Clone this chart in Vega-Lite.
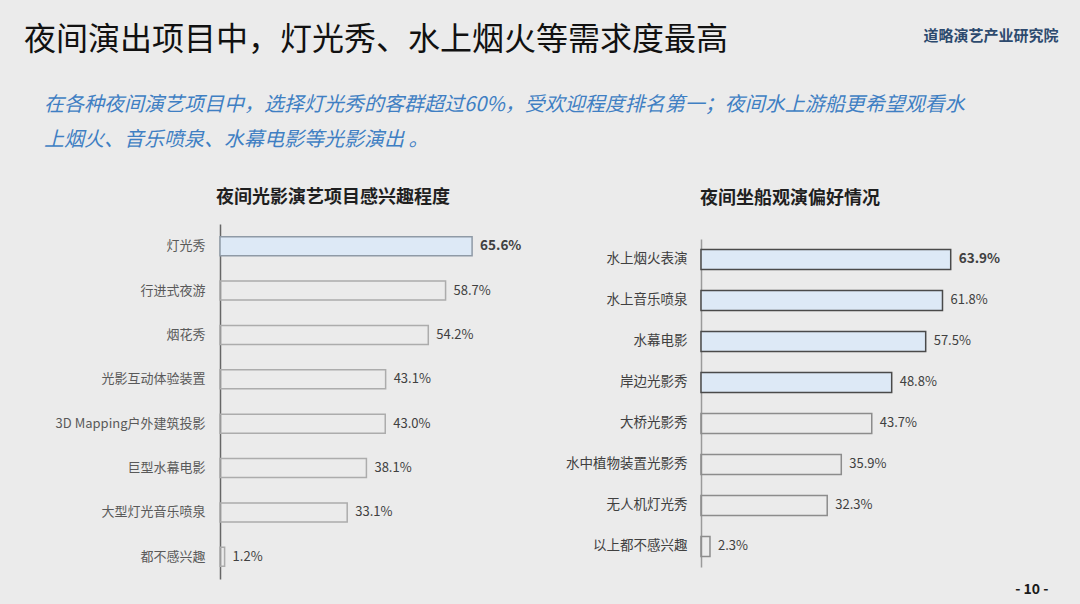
{
  "$schema": "https://vega.github.io/schema/vega-lite/v6.json",
  "background": "#ebebeb",
  "padding": {"left": 24, "top": 24, "right": 22, "bottom": 8},
  "title": {
    "text": "夜间演出项目中，灯光秀、水上烟火等需求度最高",
    "subtitle": ["\u200b\u3000在各种夜间演艺项目中，选择灯光秀的客群超过60%，受欢迎程度排名第一；夜间水上游船更希望观看水", "\u200b\u3000上烟火、音乐喷泉、水幕电影等光影演出 。"],
    "anchor": "start",
    "frame": "bounds",
    "dx": -31,
    "fontSize": 32,
    "fontWeight": "normal",
    "color": "#111111",
    "subtitleFontSize": 20,
    "subtitleFontStyle": "italic",
    "subtitleColor": "#3f7fc3",
    "subtitleLineHeight": 35,
    "subtitlePadding": 38,
    "offset": -123
  },
  "datasets": {
    "left": [
      {"item": "灯光秀", "v": 0.656},
      {"item": "行进式夜游", "v": 0.587},
      {"item": "烟花秀", "v": 0.542},
      {"item": "光影互动体验装置", "v": 0.431},
      {"item": "3D Mapping户外建筑投影", "v": 0.430},
      {"item": "巨型水幕电影", "v": 0.381},
      {"item": "大型灯光音乐喷泉", "v": 0.331},
      {"item": "都不感兴趣", "v": 0.012}
    ],
    "right": [
      {"item": "水上烟火表演", "v": 0.639},
      {"item": "水上音乐喷泉", "v": 0.618},
      {"item": "水幕电影", "v": 0.575},
      {"item": "岸边光影秀", "v": 0.488},
      {"item": "大桥光影秀", "v": 0.437},
      {"item": "水中植物装置光影秀", "v": 0.359},
      {"item": "无人机灯光秀", "v": 0.323},
      {"item": "以上都不感兴趣", "v": 0.023}
    ]
  },
  "spacing": 43,
  "hconcat": [
    {
      "width": 269,
      "height": 355,
      "data": {"name": "left"},
      "title": {"text": "夜间光影演艺项目感兴趣程度", "anchor": "start", "frame": "group", "dx": -4, "offset": 17, "fontSize": 18, "fontWeight": "bold", "color": "#1f1f1f"},
      "encoding": {
        "y": {"field": "item", "type": "nominal", "sort": null,
          "scale": {"paddingInner": 0.57, "paddingOuter": 0.285},
          "axis": {"title": null, "ticks": false, "grid": false, "domainColor": "#666666", "domainWidth": 1.5, "labelFontSize": 13, "labelColor": "#595959", "labelPadding": 15, "labelLimit": 400}},
        "x": {"field": "v", "type": "quantitative", "scale": {"domain": [0, 0.7], "nice": false}, "axis": null}
      },
      "layer": [
        {"mark": {"type": "bar", "strokeWidth": 1.5},
          "encoding": {
            "fill": {"condition": {"test": "datum.v > 0.6", "value": "#dde9f6"}, "value": "transparent"},
            "stroke": {"condition": {"test": "datum.v > 0.6", "value": "#8f9aa6"}, "value": "#acacac"}
          }},
        {"transform": [{"filter": "datum.v > 0.63"}],
          "mark": {"type": "text", "align": "left", "baseline": "middle", "dx": 8, "fontSize": 13.5, "fontWeight": "bold", "color": "#404040"},
          "encoding": {"text": {"field": "v", "type": "quantitative", "format": ".1%"}}},
        {"transform": [{"filter": "datum.v <= 0.63"}],
          "mark": {"type": "text", "align": "left", "baseline": "middle", "dx": 8, "fontSize": 13, "color": "#404040"},
          "encoding": {"text": {"field": "v", "type": "quantitative", "format": ".1%"}}}
      ]
    },
    {
      "width": 347,
      "height": 343,
      "data": {"name": "right"},
      "title": {"text": "夜间坐船观演偏好情况", "anchor": "start", "frame": "group", "dx": -1, "offset": -180, "fontSize": 18, "fontWeight": "bold", "color": "#1f1f1f"},
      "encoding": {
        "y": {"field": "item", "type": "nominal", "sort": null,
          "scale": {"paddingInner": 0.51, "paddingOuter": 0.438, "align": 0.708},
          "axis": {"title": "道略演艺产业研究院", "titleAngle": 0, "titleX": 357, "titleY": -189, "titleAlign": "right", "titleBaseline": "middle", "titleFontSize": 15, "titleFontWeight": "bold", "titleColor": "#2d4a6e",
            "ticks": false, "grid": false, "domainColor": "#9a9a9a", "domainWidth": 1.5, "domainDash": [0, 15, 400, 0], "labelFontSize": 13.5, "labelColor": "#404040", "labelPadding": 14, "labelLimit": 400}},
        "x": {"field": "v", "type": "quantitative", "scale": {"domain": [0, 0.888], "nice": false},
          "axis": {"title": "- 10 -", "labels": false, "ticks": false, "domain": false, "grid": false, "titleAnchor": "end", "titlePadding": 15, "titleFontSize": 14, "titleFontWeight": "bold", "titleColor": "#1a1a1a"}}
      },
      "layer": [
        {"mark": {"type": "bar", "strokeWidth": 1.5},
          "encoding": {
            "fill": {"condition": {"test": "datum.v > 0.45", "value": "#dde9f6"}, "value": "transparent"},
            "stroke": {"condition": {"test": "datum.v > 0.45", "value": "#4a4a4a"}, "value": "#8c8c8c"}
          }},
        {"transform": [{"filter": "datum.v > 0.63"}],
          "mark": {"type": "text", "align": "left", "baseline": "middle", "dx": 8, "fontSize": 13.5, "fontWeight": "bold", "color": "#404040"},
          "encoding": {"text": {"field": "v", "type": "quantitative", "format": ".1%"}}},
        {"transform": [{"filter": "datum.v <= 0.63"}],
          "mark": {"type": "text", "align": "left", "baseline": "middle", "dx": 8, "fontSize": 13, "color": "#404040"},
          "encoding": {"text": {"field": "v", "type": "quantitative", "format": ".1%"}}}
      ]
    }
  ],
  "config": {
    "view": {"stroke": null},
    "font": "Noto Sans CJK SC"
  }
}
